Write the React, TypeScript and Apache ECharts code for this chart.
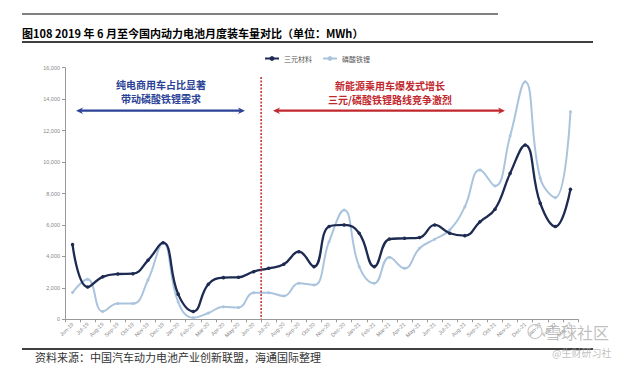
import React, { useEffect, useRef } from "react";
import * as echarts from "echarts";

const months = [
  "Jun-19", "Jul-19", "Aug-19", "Sep-19", "Oct-19", "Nov-19", "Dec-19",
  "Jan-20", "Feb-20", "Mar-20", "Apr-20", "May-20", "Jun-20", "Jul-20", "Aug-20", "Sep-20", "Oct-20", "Nov-20", "Dec-20",
  "Jan-21", "Feb-21", "Mar-21", "Apr-21", "May-21", "Jun-21", "Jul-21", "Aug-21", "Sep-21", "Oct-21", "Nov-21", "Dec-21",
  "Jan-22", "Feb-22", "Mar-22",
];

const ternary = [
  4750, 2050, 2700, 2880, 2900, 3750, 4870,
  1600, 500, 2230, 2650, 2670, 3030, 3240, 3500, 4300, 3350, 5900, 6000,
  5470, 3350, 5100, 5150, 5200, 6000, 5470, 5320, 6200, 7000, 9280, 11080,
  7380, 5900, 8270,
];

const lfp = [
  1700, 2550, 500, 1000, 1000, 2500, 4850,
  1100, 100, 400, 800, 750, 1690, 1690, 1480, 2290, 2180, 4935, 6950,
  3345, 2290, 3940, 3240, 4515, 5090, 5680, 7160, 9500, 8475, 11655, 15110,
  8965, 7735, 13200,
];

const seriesNames = ["三元材料", "磷酸铁锂"];
const yMax = 16000;
const yInterval = 2000;

const titleText = "图108 2019 年 6 月至今国内动力电池月度装车量对比（单位：MWh）";
const sourceText = "资料来源：中国汽车动力电池产业创新联盟，海通国际整理";
const leftNote = "纯电商用车占比显著\n带动磷酸铁锂需求";
const rightNote = "新能源乘用车爆发式增长\n三元/磷酸铁锂路线竞争激烈";
const watermark1 = "雪球社区";
const watermark2 = "@生财研习社";

const DARK = "#1d2b52";
const LIGHT = "#aac4de";
const BLUE = "#2b4296";
const RED = "#c1272d";
const CJK = "'Noto Sans CJK SC', 'Noto Sans', sans-serif";

export default function App() {
  const ref = useRef<HTMLDivElement>(null);

  useEffect(() => {
    const chart = echarts.init(ref.current!, null, { renderer: "svg" });
    chart.setOption({
      animation: false,
      backgroundColor: "#ffffff",
      grid: { left: 65, right: 47, top: 67.7, bottom: 49.7 },
      legend: {
        left: 259,
        top: 50,
        itemWidth: 14,
        itemHeight: 6,
        itemGap: 10,
        textStyle: { fontSize: 7, color: "#555", fontFamily: CJK },
        data: [seriesNames[0], seriesNames[1]],
      },
      xAxis: {
        type: "category",
        data: months,
        boundaryGap: true,
        axisLine: { lineStyle: { color: "#999", width: 1 } },
        axisTick: { show: true, length: 3, lineStyle: { color: "#999" } },
        axisLabel: {
          interval: 0,
          rotate: 45,
          fontSize: 5.5,
          color: "#888",
          margin: 4,
          fontFamily: "Liberation Sans, Arial, sans-serif",
        },
        splitLine: { show: false },
      },
      yAxis: {
        type: "value",
        min: 0,
        max: yMax,
        interval: yInterval,
        axisLine: { show: true, lineStyle: { color: "#999", width: 1 } },
        axisTick: { show: true, length: 3, lineStyle: { color: "#999" } },
        axisLabel: {
          fontSize: 5.5,
          color: "#888",
          margin: 5,
          fontFamily: "Liberation Sans, Arial, sans-serif",
        },
        splitLine: { show: false },
      },
      series: [
        {
          name: seriesNames[1],
          type: "line",
          data: lfp,
          smooth: 0.45,
          symbol: "circle",
          symbolSize: 3,
          lineStyle: { color: LIGHT, width: 2 },
          itemStyle: { color: LIGHT },
          z: 2,
        },
        {
          name: seriesNames[0],
          type: "line",
          data: ternary,
          smooth: 0.45,
          symbol: "circle",
          symbolSize: 3.5,
          lineStyle: { color: DARK, width: 2.3 },
          itemStyle: { color: DARK },
          z: 3,
        },
      ],
    });

    const xa = chart.convertToPixel({ xAxisIndex: 0 }, "Jun-20") as number;
    const xb = chart.convertToPixel({ xAxisIndex: 0 }, "Jul-20") as number;
    const sepX = (xa + xb) / 2;
    const y0 = chart.convertToPixel({ yAxisIndex: 0 }, 0) as number;
    const arrowY = 110.7;

    const arrowHead = (tipX: number, dir: number, color: string) => ({
      type: "polygon",
      shape: {
        points: [
          [tipX, arrowY],
          [tipX - dir * 7, arrowY - 3.2],
          [tipX - dir * 5, arrowY],
          [tipX - dir * 7, arrowY + 3.2],
        ],
      },
      style: { fill: color },
      z: 10,
    });

    chart.setOption({
      graphic: [
        { type: "line", shape: { x1: 22, y1: 14, x2: 498, y2: 14 }, style: { stroke: "#000", lineWidth: 1 } },
        {
          type: "text",
          style: {
            text: titleText, x: 22, y: 33,
            fontSize: 11, fontWeight: "bold", fontFamily: CJK, fill: "#000",
            textAlign: "left", textVerticalAlign: "middle", align: "left", verticalAlign: "middle",
          },
        },
        { type: "line", shape: { x1: 22, y1: 42, x2: 593, y2: 42 }, style: { stroke: "#000", lineWidth: 1.5 } },
        { type: "line", shape: { x1: 22, y1: 349, x2: 593, y2: 349 }, style: { stroke: "#000", lineWidth: 1.5 } },
        {
          type: "text",
          style: {
            text: sourceText, x: 35, y: 357,
            fontSize: 11, fontFamily: CJK, fill: "#333",
            textAlign: "left", textVerticalAlign: "middle", align: "left", verticalAlign: "middle",
          },
        },
        {
          type: "line",
          shape: { x1: sepX, y1: 77, x2: sepX, y2: y0 },
          style: { stroke: RED, lineWidth: 1.5, lineDash: [2, 1.5] },
          z: 10,
        },
        { type: "line", shape: { x1: 80, y1: arrowY, x2: 241, y2: arrowY }, style: { stroke: BLUE, lineWidth: 2.2 }, z: 10 },
        arrowHead(76, -1, BLUE),
        arrowHead(245, 1, BLUE),
        { type: "line", shape: { x1: 277, y1: arrowY, x2: 501, y2: arrowY }, style: { stroke: RED, lineWidth: 2.2 }, z: 10 },
        arrowHead(273, -1, RED),
        arrowHead(505, 1, RED),
        {
          type: "text",
          style: {
            text: leftNote, x: 161, y: 91.7, lineHeight: 13.5,
            fontSize: 10, fontWeight: "bold", fontFamily: CJK, fill: BLUE,
            textAlign: "center", textVerticalAlign: "middle", align: "center", verticalAlign: "middle",
          },
          z: 10,
        },
        {
          type: "text",
          style: {
            text: rightNote, x: 390, y: 92.5, lineHeight: 14.5,
            fontSize: 10, fontWeight: "bold", fontFamily: CJK, fill: RED,
            textAlign: "center", textVerticalAlign: "middle", align: "center", verticalAlign: "middle",
          },
          z: 10,
        },
        {
          type: "circle",
          shape: { cx: 535, cy: 331.5, r: 7 },
          style: { fill: "none", stroke: "#c8c8c8", lineWidth: 1.2 },
          z: 20,
        },
        {
          type: "text",
          style: {
            text: watermark1, x: 545, y: 331.5,
            fontSize: 16, fontFamily: CJK, fill: "rgba(170,170,170,0.75)",
            textAlign: "left", textVerticalAlign: "middle", align: "left", verticalAlign: "middle",
          },
          z: 20,
        },
        {
          type: "text",
          style: {
            text: watermark2, x: 552, y: 352,
            fontSize: 10, fontFamily: CJK, fill: "rgba(170,170,170,0.75)",
            textAlign: "left", textVerticalAlign: "middle", align: "left", verticalAlign: "middle",
          },
          z: 20,
        },
      ],
    });

    return () => chart.dispose();
  }, []);

  return (
    <div
      ref={ref}
      style={{ position: "fixed", left: 0, top: 0, width: 625, height: 369, background: "#fff" }}
    />
  );
}
